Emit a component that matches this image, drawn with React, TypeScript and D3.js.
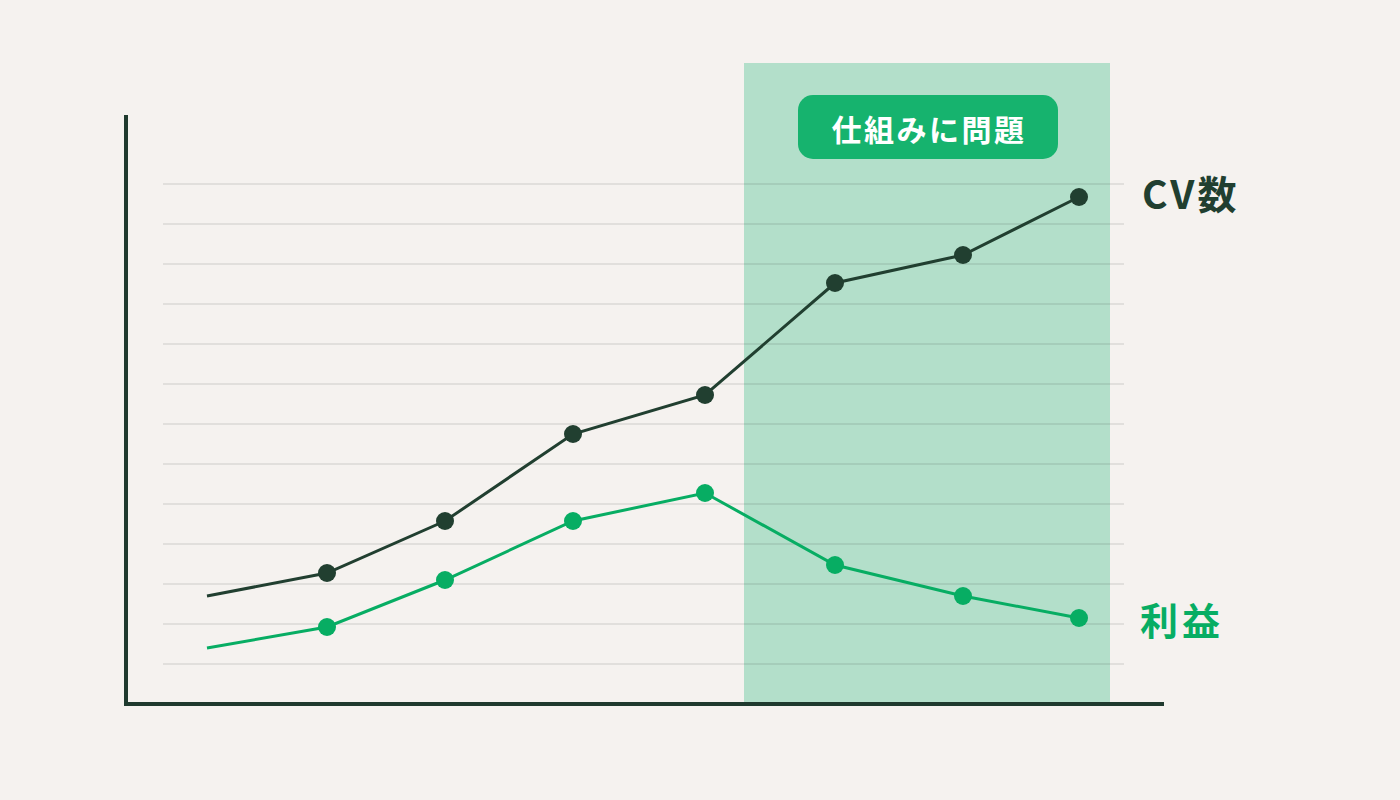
import React from "react";
import * as d3 from "d3";

const xValues = [0, 120, 238, 366, 498, 628, 756, 872];
const cvValues = [2.7, 3.275, 4.575, 6.75, 7.725, 10.525, 11.225, 12.675];
const profitValues = [1.4, 1.925, 3.1, 4.575, 5.275, 3.475, 2.7, 2.15];
const gridValues = [1, 2, 3, 4, 5, 6, 7, 8, 9, 10, 11, 12, 13];
const highlightRange = [537, 903];
const badgeText = "仕組みに問題";
const cvLabel = "CV数";
const profitLabel = "利益";

const W = 1400;
const H = 800;
const FONT = "'Noto Sans CJK JP', 'Noto Sans', sans-serif";

export default function App() {
  const x = d3.scaleLinear().domain([0, 872]).range([207, 1079]);
  const y = d3.scaleLinear().domain([0, 13]).range([704, 184]);
  const line = d3
    .line<number>()
    .x((_, i) => x(xValues[i]))
    .y((d) => y(d))
    .curve(d3.curveLinear);

  const bandX0 = x(highlightRange[0]);
  const bandX1 = x(highlightRange[1]);

  return (
    <svg
      width={W}
      height={H}
      style={{ position: "fixed", left: 0, top: 0, display: "block" }}
    >
      <rect x={0} y={0} width={W} height={H} fill="#f5f2ef" />
      <rect x={bandX0} y={63} width={bandX1 - bandX0} height={704 - 63} fill="#b3dfca" />
      {gridValues.map((g) => (
        <line
          key={g}
          x1={163}
          x2={1124}
          y1={y(g)}
          y2={y(g)}
          stroke="#000"
          strokeOpacity={0.08}
          strokeWidth={2}
        />
      ))}
      <rect x={798} y={95} width={260} height={64} rx={15} fill="#16b36e" />
      <text
        x={929}
        y={128}
        textAnchor="middle"
        dominantBaseline="central"
        fill="#ffffff"
        fontFamily={FONT}
        fontWeight={700}
        fontSize={30}
        letterSpacing={2.5}
      >
        {badgeText}
      </text>
      <path d={line(profitValues) || ""} fill="none" stroke="#07ad63" strokeWidth={3} />
      <path d={line(cvValues) || ""} fill="none" stroke="#213f30" strokeWidth={3} />
      {profitValues.slice(1).map((v, i) => (
        <circle key={"p" + i} cx={x(xValues[i + 1])} cy={y(v)} r={9} fill="#07ad63" />
      ))}
      {cvValues.slice(1).map((v, i) => (
        <circle key={"c" + i} cx={x(xValues[i + 1])} cy={y(v)} r={9} fill="#213f30" />
      ))}
      <line x1={126} x2={126} y1={115} y2={706} stroke="#1f3a2e" strokeWidth={4} />
      <line x1={124} x2={1164} y1={704} y2={704} stroke="#1f3a2e" strokeWidth={4} />
      <text
        x={1142}
        y={192}
        dominantBaseline="central"
        fill="#213f30"
        fontFamily={FONT}
        fontWeight={700}
        fontSize={39}
        letterSpacing={3}
      >
        {cvLabel}
      </text>
      <text
        x={1140}
        y={618}
        dominantBaseline="central"
        fill="#07ad63"
        fontFamily={FONT}
        fontWeight={700}
        fontSize={38}
        letterSpacing={4}
      >
        {profitLabel}
      </text>
    </svg>
  );
}
